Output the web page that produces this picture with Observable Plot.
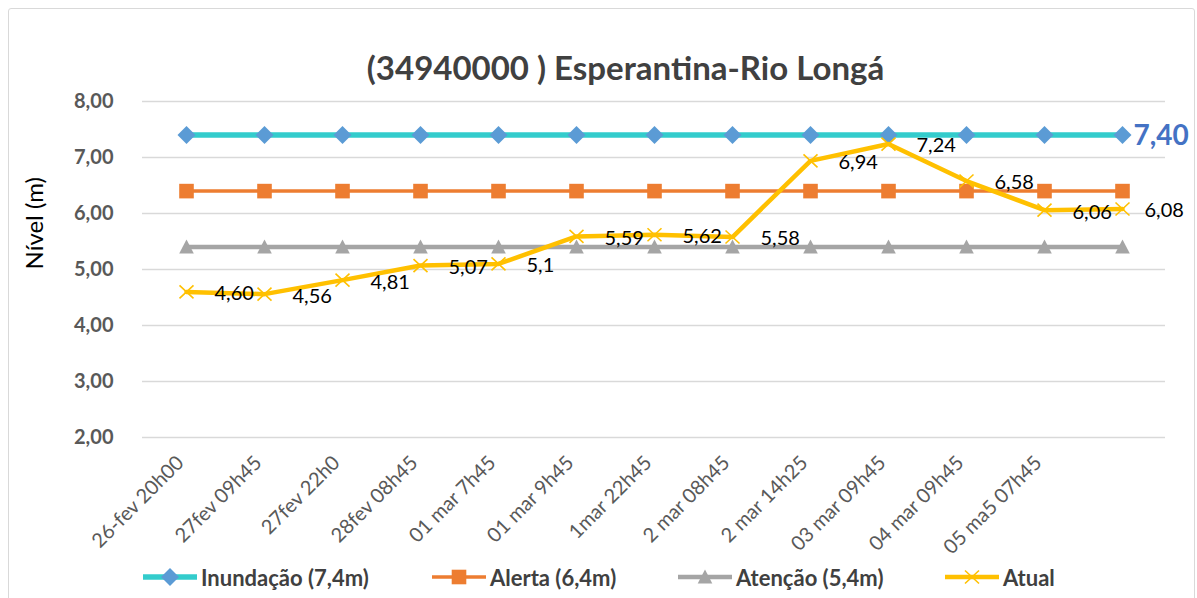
<!DOCTYPE html>
<html>
<head>
<meta charset="utf-8">
<script src="https://cdn.jsdelivr.net/npm/d3@7"></script>
<script src="https://cdn.jsdelivr.net/npm/@observablehq/plot@0.6"></script>
<style>
  html, body { margin: 0; padding: 0; background: #fff; }
  body { width: 1197px; height: 598px; overflow: hidden; position: relative; font-family: Lato, "Open Sans", sans-serif; }
  #frame { position: absolute; left: 8px; top: 8px; width: 1187px; height: 610px; border: 1px solid #d9d9d9; border-radius: 3px; box-sizing: border-box; pointer-events: none; }
  #title { height: 80px; box-sizing: border-box; padding-top: 51px; text-align: center; font-weight: 700; font-size: 33px; line-height: 33px; color: #404040; white-space: nowrap; overflow: visible; }
  #title span { position: relative; left: 27px; }
  #legend { position: relative; height: 38px; }
  .item { position: absolute; top: 0; height: 34px; display: flex; align-items: center; }
  .item svg { display: block; }
  .item span { font-weight: 700; font-size: 22px; color: #404040; margin-left: 4px; white-space: nowrap; }
</style>
</head>
<body>
<div id="frame"></div>
<div id="title"><span>(34940000 ) Esperantina-Rio Longá</span></div>
<div id="chart"></div>
<div id="legend"></div>
<script>
// ---- data ----
const categories = ["26-fev 20h00", "27fev 09h45", "27fev 22h0", "28fev 08h45", "01 mar 7h45", "01 mar 9h45", "1mar 22h45", "2 mar 08h45", "2 mar 14h25", "03 mar 09h45", "04 mar 09h45", "05 ma5 07h45", ""];
const inundacao = [7.4, 7.4, 7.4, 7.4, 7.4, 7.4, 7.4, 7.4, 7.4, 7.4, 7.4, 7.4, 7.4];
const alerta = [6.4, 6.4, 6.4, 6.4, 6.4, 6.4, 6.4, 6.4, 6.4, 6.4, 6.4, 6.4, 6.4];
const atencao = [5.4, 5.4, 5.4, 5.4, 5.4, 5.4, 5.4, 5.4, 5.4, 5.4, 5.4, 5.4, 5.4];
const atual = [4.60, 4.56, 4.81, 5.07, 5.10, 5.59, 5.62, 5.58, 6.94, 7.24, 6.58, 6.06, 6.08];
const atualLabels = ["4,60", "4,56", "4,81", "5,07", "5,1", "5,59", "5,62", "5,58", "6,94", "7,24", "6,58", "6,06", "6,08"];
const yTicks = [2, 3, 4, 5, 6, 7, 8];
const seriesNames = ["Inundação (7,4m)", "Alerta (6,4m)", "Atenção (5,4m)", "Atual"];
const yLabel = "Nível (m)";

// ---- table ----
const rows = categories.map((c, i) => ({cat: c, inund: inundacao[i], alerta: alerta[i], atencao: atencao[i], atual: atual[i], label: atualLabels[i], i}));
const last = rows.length - 1;

// ---- symbols ----
const diamond = {draw(ctx) { const r = 9; ctx.moveTo(0, -r); ctx.lineTo(r, 0); ctx.lineTo(0, r); ctx.lineTo(-r, 0); ctx.closePath(); }};
const square = {draw(ctx) { const s = 7.3; ctx.moveTo(-s, -s); ctx.lineTo(s, -s); ctx.lineTo(s, s); ctx.lineTo(-s, s); ctx.closePath(); }};
const triangle = {draw(ctx) { ctx.moveTo(0, -7.5); ctx.lineTo(7.3, 6.5); ctx.lineTo(-7.3, 6.5); ctx.closePath(); }};
const cross = {draw(ctx) { ctx.moveTo(-7, -6.5); ctx.lineTo(7, 6.5); ctx.moveTo(-7, 6.5); ctx.lineTo(7, -6.5); }};

const C = {inund: "#33CCCC", diamond: "#5B9BD5", alerta: "#ED7D31", atencao: "#A5A5A5", atual: "#FFC000", blue: "#4472C4"};
const fmt = d => d.toFixed(2).replace(".", ",");

const chart = Plot.plot({
  width: 1197,
  height: 480,
  marginTop: 21,
  marginBottom: 123,
  marginLeft: 142,
  marginRight: 32,
  style: {fontFamily: "Lato, 'Open Sans', sans-serif", background: "transparent", overflow: "visible"},
  x: {type: "point", domain: categories, padding: 0.5},
  y: {domain: [2, 8]},
  marks: [
    Plot.gridY(yTicks, {stroke: "#d9d9d9", strokeOpacity: 1, strokeWidth: 1.3}),
    Plot.axisY(yTicks, {tickFormat: fmt, tickSize: 0, tickPadding: 29, fontSize: 20, fontWeight: 700, fill: "#595959", label: null}),
    Plot.text([yLabel], {frameAnchor: "left", text: d => d, rotate: -90, dx: -107, fontSize: 24, fill: "#000"}),
    Plot.axisX({tickRotate: -45, tickSize: 0, tickPadding: 22, dx: -6, fontSize: 20, fill: "#595959", label: null}),
    // Inundação
    Plot.line(rows, {x: "cat", y: "inund", stroke: C.inund, strokeWidth: 5.5}),
    Plot.dot(rows, {x: "cat", y: "inund", symbol: diamond, fill: C.diamond, stroke: "none", r: 1}),
    // Alerta
    Plot.line(rows, {x: "cat", y: "alerta", stroke: C.alerta, strokeWidth: 3.5}),
    Plot.dot(rows, {x: "cat", y: "alerta", symbol: square, fill: C.alerta, stroke: "none", r: 1}),
    // Atenção
    Plot.line(rows, {x: "cat", y: "atencao", stroke: C.atencao, strokeWidth: 4.5}),
    Plot.dot(rows, {x: "cat", y: "atencao", symbol: triangle, fill: C.atencao, stroke: "none", r: 1}),
    // Atual
    Plot.line(rows, {x: "cat", y: "atual", stroke: C.atual, strokeWidth: 4.5}),
    Plot.dot(rows, {x: "cat", y: "atual", symbol: cross, fill: "none", stroke: C.atual, strokeWidth: 1.6, r: 1}),
    // data labels
    Plot.text(rows.filter(d => d.i !== last), {x: "cat", y: "atual", text: "label", textAnchor: "start", dx: 28, dy: 2, fontSize: 20, fill: "#000"}),
    Plot.text(rows.filter(d => d.i === last), {x: "cat", y: "atual", text: "label", textAnchor: "start", dx: 22, dy: 2, fontSize: 20, fill: "#000"}),
    Plot.text(rows.filter(d => d.i === last), {x: "cat", y: "inund", text: d => fmt(d.inund), textAnchor: "start", dx: 11, dy: 1, fontSize: 28, fontWeight: 700, fill: C.blue})
  ]
});
document.getElementById("chart").appendChild(chart);

// ---- legend ----
const legendDefs = [
  {name: seriesNames[0], left: 143, stroke: C.inund, sw: 5.5, marker: `<path d="M27,-9L36,0L27,9L18,0Z" fill="${C.diamond}"/>`},
  {name: seriesNames[1], left: 432, stroke: C.alerta, sw: 3.5, marker: `<rect x="19.7" y="-7.3" width="14.6" height="14.6" fill="${C.alerta}"/>`},
  {name: seriesNames[2], left: 678, stroke: C.atencao, sw: 4.5, marker: `<path d="M27,-7.5L34.3,6.5L19.7,6.5Z" fill="${C.atencao}"/>`},
  {name: seriesNames[3], left: 945, stroke: C.atual, sw: 4.5, marker: `<path d="M20,-6.5L34,6.5M20,6.5L34,-6.5" stroke="${C.atual}" stroke-width="1.6" fill="none"/>`}
];
const legend = document.getElementById("legend");
for (const d of legendDefs) {
  const el = document.createElement("div");
  el.className = "item";
  el.style.left = d.left + "px";
  el.innerHTML = `<svg width="54" height="22" viewBox="0 -11 54 22"><line x1="0" x2="54" y1="0" y2="0" stroke="${d.stroke}" stroke-width="${d.sw}"/>${d.marker}</svg><span>${d.name}</span>`;
  legend.appendChild(el);
}
</script>
</body>
</html>
